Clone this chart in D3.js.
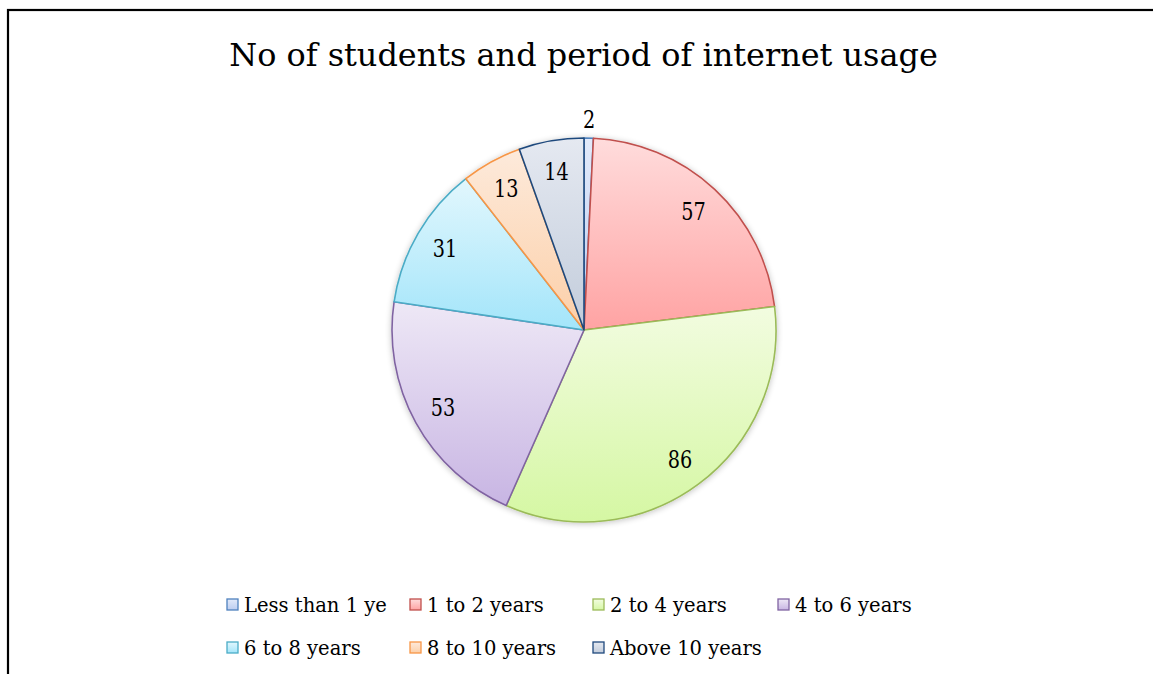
<!DOCTYPE html>
<html><head><meta charset="utf-8">
<script src="https://cdn.jsdelivr.net/npm/d3@7"></script>
<style>body{margin:0;background:#fff;} svg{display:block;}</style>
</head><body>
<svg id="chart" width="1153" height="674"></svg>
<script>
const title = "No of students and period of internet usage";
const categories = ["Less than 1 ye", "1 to 2 years", "2 to 4 years", "4 to 6 years", "6 to 8 years", "8 to 10 years", "Above 10 years"];
const values = [2, 57, 86, 53, 31, 13, 14];
const fillTop = ["#e2eafa", "#ffdcdc", "#f2fce0", "#eee8f6", "#e2f7fd", "#fdeadb", "#e5e9f1"];
const fillBottom = ["#bccdf0", "#ffa3a3", "#d5f7a3", "#c8b5e3", "#a3e5fa", "#fccfa8", "#c2ccdb"];
const strokes = ["#4f81bd", "#c0504d", "#9bbb59", "#8064a2", "#4bacc6", "#f79646", "#1f497d"];

const svg = d3.select("#chart");
const font = "'DejaVu Serif', 'Liberation Serif', serif";

function fit(sel, target) {
  const w = sel.node().getComputedTextLength();
  const fs = parseFloat(sel.attr("font-size"));
  sel.attr("font-size", fs * target / w);
}

// frame
svg.append("rect").attr("x", 8).attr("y", 10).attr("width", 1200).attr("height", 700)
  .attr("fill", "#fff").attr("stroke", "#000").attr("stroke-width", 2.2);

const t = svg.append("text").attr("x", 583.5).attr("y", 66).attr("text-anchor", "middle")
  .attr("font-family", font).attr("font-size", 32).attr("fill", "#000").text(title);
fit(t, 709);

const defs = svg.append("defs");
values.forEach((v, i) => {
  const g = defs.append("linearGradient").attr("id", "g" + i)
    .attr("x1", 0).attr("y1", 0).attr("x2", 0).attr("y2", 1);
  g.append("stop").attr("offset", "0%").attr("stop-color", fillTop[i]);
  g.append("stop").attr("offset", "100%").attr("stop-color", fillBottom[i]);
});
const flt = defs.append("filter").attr("id", "sh").attr("x", "-10%").attr("y", "-10%").attr("width", "120%").attr("height", "120%");
flt.append("feGaussianBlur").attr("in", "SourceAlpha").attr("stdDeviation", 3).attr("result", "b");
flt.append("feOffset").attr("in", "b").attr("dx", 0).attr("dy", 1).attr("result", "o");
flt.append("feComponentTransfer").attr("in", "o").attr("result", "o2")
  .append("feFuncA").attr("type", "linear").attr("slope", 0.25);
const fm = flt.append("feMerge");
fm.append("feMergeNode").attr("in", "o2");
fm.append("feMergeNode").attr("in", "SourceGraphic");

const cx = 584, cy = 330, R = 192;
const pie = d3.pie().sort(null).value(d => d)(values);
const arc = d3.arc().innerRadius(0).outerRadius(R);
const g = svg.append("g").attr("transform", `translate(${cx},${cy})`);
const shadowG = g.append("g").attr("filter", "url(#sh)");
shadowG.selectAll("path").data(pie).join("path")
  .attr("d", arc)
  .attr("fill", (d, i) => `url(#g${i})`)
  .attr("stroke", (d, i) => strokes[i]).attr("stroke-width", 1.6)
  .attr("stroke-linejoin", "round");

const labelArc = d3.arc().innerRadius(161).outerRadius(161);
const outArc = d3.arc().innerRadius(210).outerRadius(210);
g.selectAll("text.lbl").data(pie).join("text").attr("class", "lbl")
  .attr("transform", (d, i) => {
    const c = (i === 0 ? outArc : labelArc).centroid(d);
    return `translate(${c[0]},${c[1]}) scale(0.82,1)`;
  })
  .attr("text-anchor", "middle").attr("dominant-baseline", "central")
  .attr("font-family", font).attr("font-size", 23.5).attr("fill", "#000")
  .text(d => d.data);

// legend
const legX = [227, 410, 593, 778];
const legY = [605, 648];
const leg = svg.append("g");
let legFs = null;
categories.forEach((c, i) => {
  const col = i < 4 ? i : i - 4;
  const row = i < 4 ? 0 : 1;
  const x = legX[col], y = legY[row];
  leg.append("rect").attr("x", x).attr("y", y - 6).attr("width", 11).attr("height", 11)
    .attr("fill", `url(#g${i})`).attr("stroke", strokes[i]).attr("stroke-width", 1.3);
  const tx = leg.append("text").attr("x", x + 17).attr("y", y).attr("dominant-baseline", "central")
    .attr("font-family", font).attr("font-size", 20).attr("fill", "#000").text(c);
  if (i === 0) { fit(tx, 143); legFs = tx.attr("font-size"); }
  else tx.attr("font-size", legFs);
});
</script>
</body></html>
